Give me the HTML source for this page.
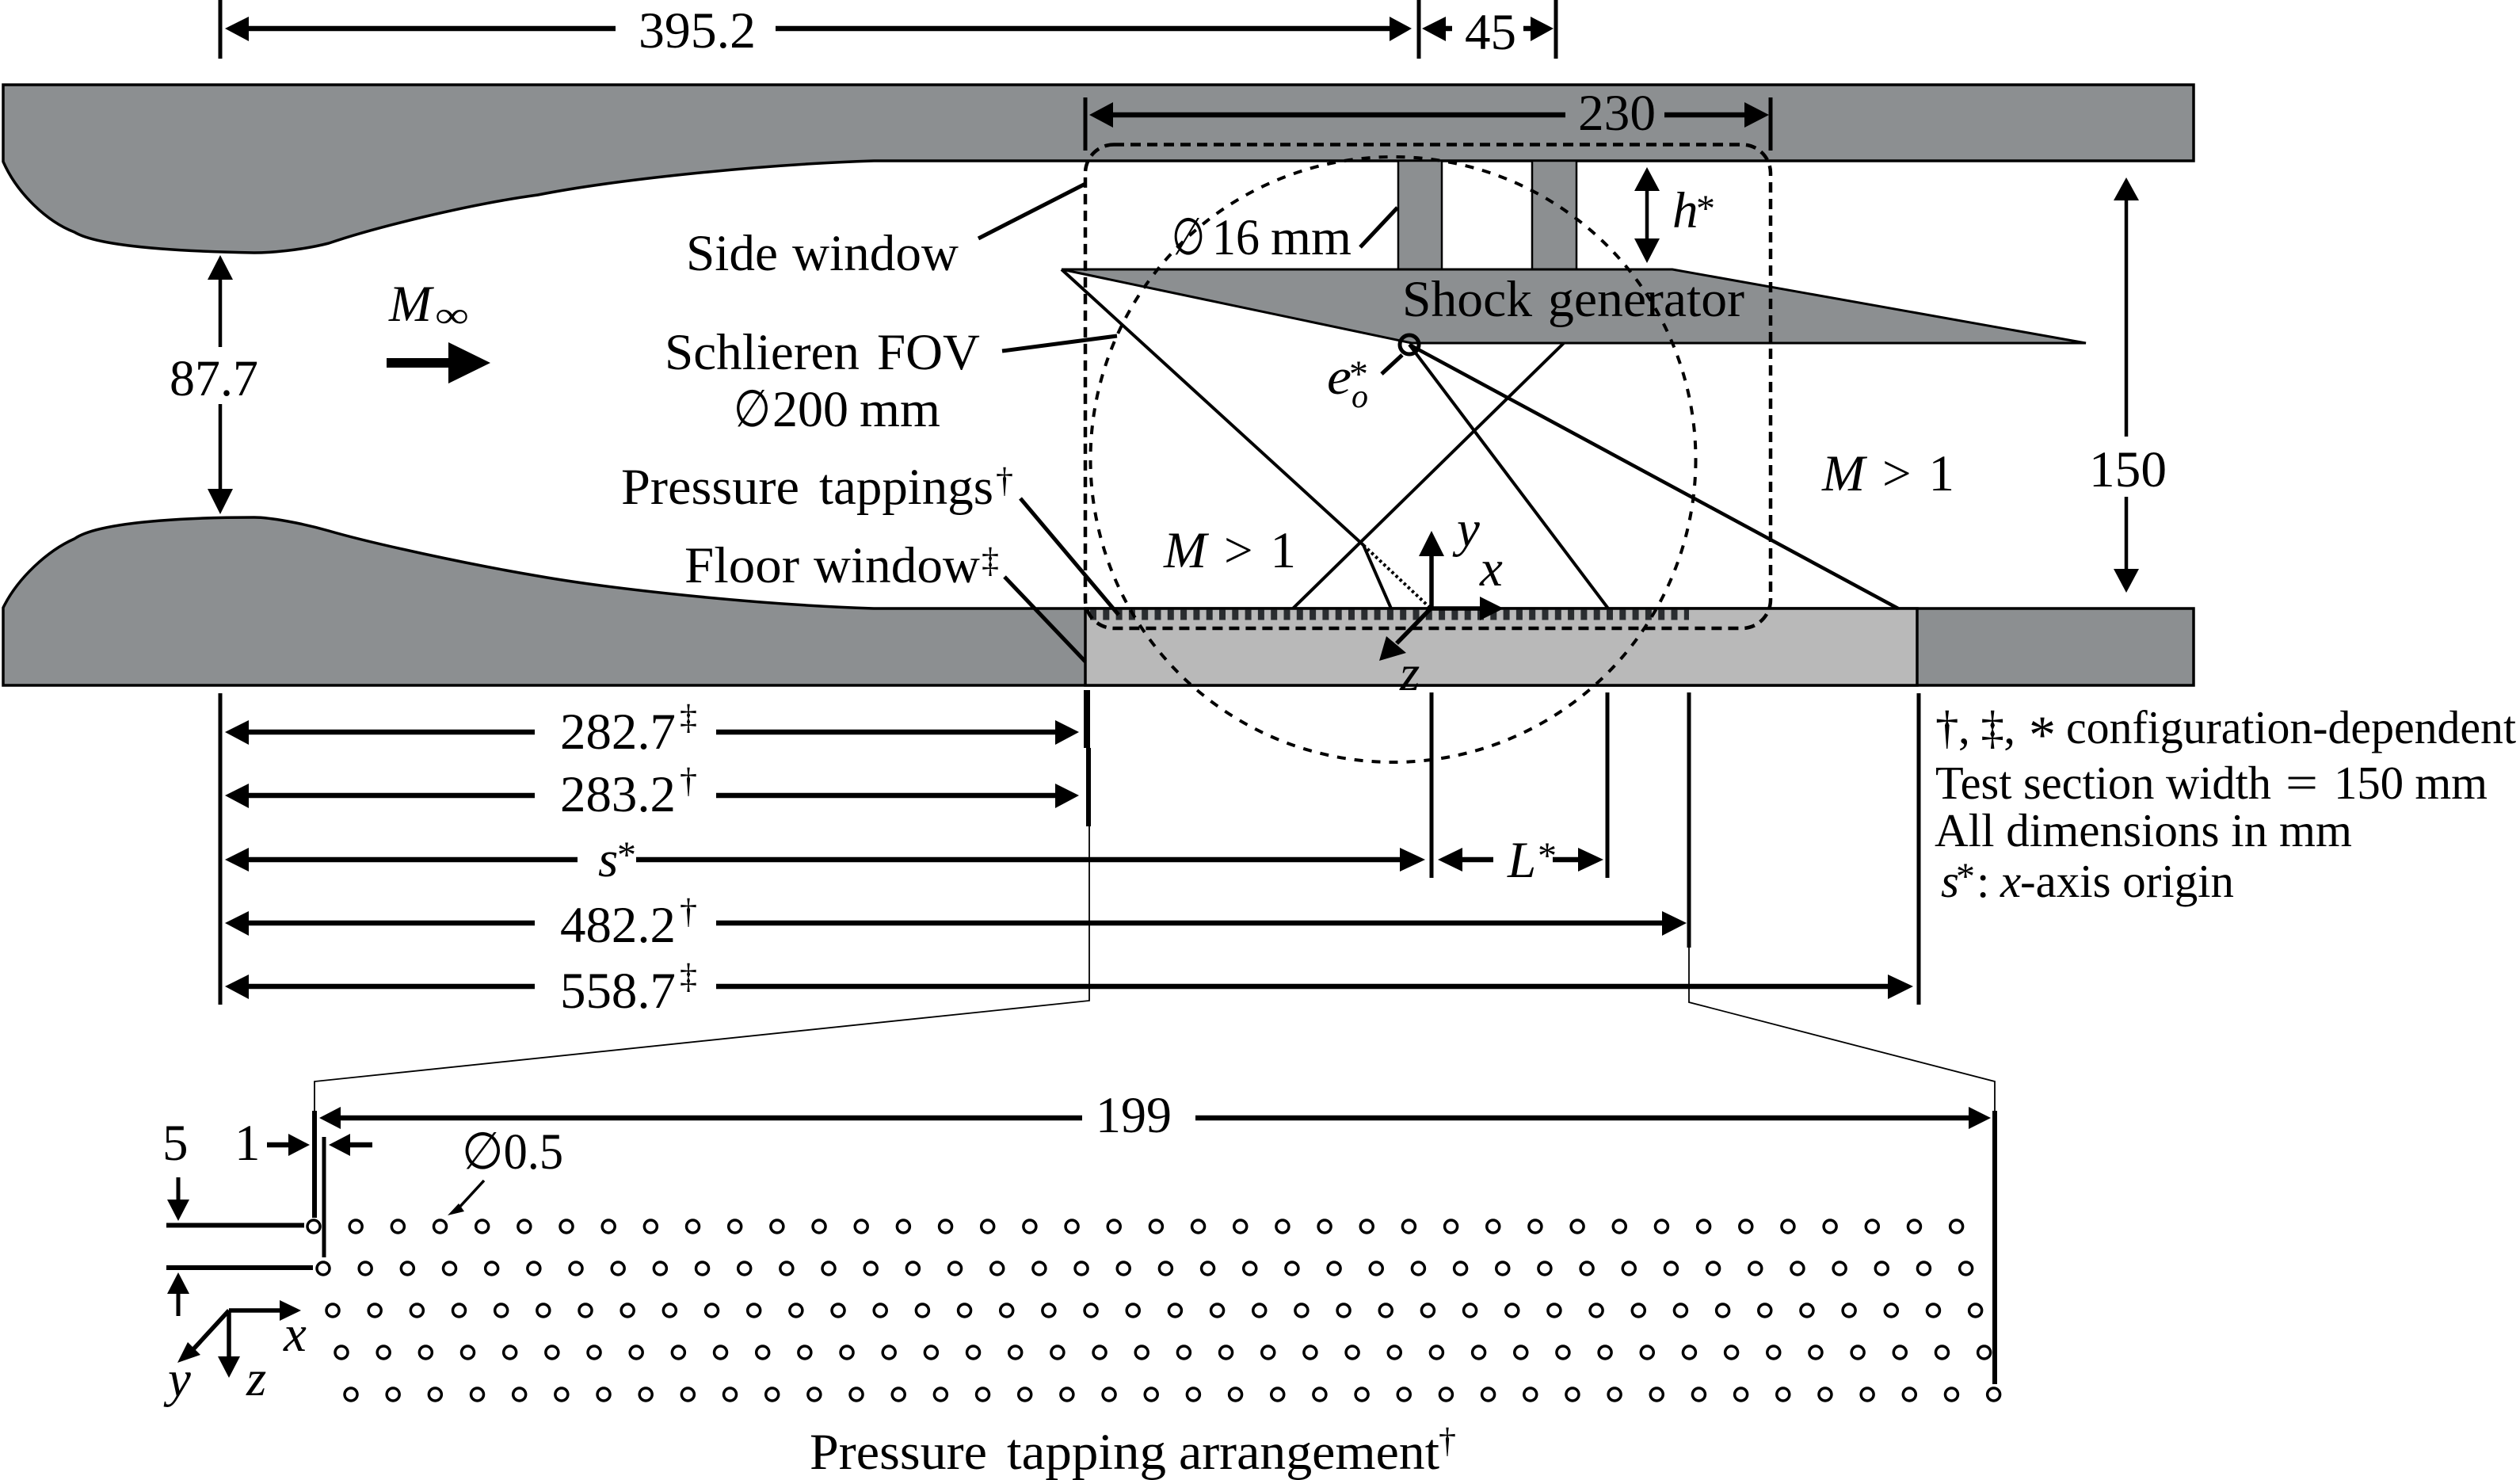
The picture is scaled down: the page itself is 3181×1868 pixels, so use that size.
<!DOCTYPE html>
<html><head><meta charset="utf-8"><style>
html,body{margin:0;padding:0;background:#fff}
svg{display:block}
text{font-family:"Liberation Serif",serif;font-size:65px;fill:#000}
.i{font-style:italic}
.l{font-size:59px}
.s{font-size:44px}
.a{font-size:48px}
.b{stroke:#000;fill:none}
</style></head><body>
<svg width="3181" height="1868" viewBox="0 0 3181 1868" xmlns="http://www.w3.org/2000/svg">
<!-- walls -->
<path d="M4,107H2769V203H1103C950,208 770,228 679,246C590,258 470,288 415,307C380,316 340,319 321,319C270,318 130,315 94,293C60,280 22,245 4,204Z" fill="#8c8f91" stroke="#000" stroke-width="3.5"/>
<path d="M4,865V767C22,730 60,695 94,680C130,655 270,653 321,653C340,653 380,660 415,670C470,686 590,712 679,727C770,743 950,763 1103,768H2769V865Z" fill="#8c8f91" stroke="#000" stroke-width="3.5"/>
<rect x="1370" y="768" width="1050" height="97" fill="#b9b9b9" stroke="#000" stroke-width="3.5"/>
<!-- struts & wedge -->
<rect x="1765" y="203" width="55" height="137" fill="#8c8f91" stroke="#000" stroke-width="2.5"/>
<rect x="1934" y="203" width="56" height="137" fill="#8c8f91" stroke="#000" stroke-width="2.5"/>
<path d="M1340,340H2111L2633,433H1782Z" fill="#8c8f91" stroke="#000" stroke-width="3"/>
<!-- hatch -->
<line x1="1376" y1="776" x2="2132" y2="776" stroke="#2a2d30" stroke-width="13" stroke-dasharray="8 8.3"/>
<!-- window & FOV -->
<rect x="1370" y="182.500" width="865" height="610.500" rx="36" class="b" stroke-width="4.500" stroke-dasharray="13 8"/>
<circle cx="1758.500" cy="580" r="382" class="b" stroke-width="4" stroke-dasharray="11 11"/>
<!-- shock lines -->
<g class="b" stroke-width="4">
<path d="M1340,340L1721,688"/>
<path d="M1721,688L1756,768"/>
<path d="M1974,433L1632,768"/>
<path d="M1779,435L2030,768"/>
<path d="M1779,435L2396,768" stroke-width="4.500"/>
<path d="M1721,688L1804,766" stroke-dasharray="3.500 3.500"/>
</g>
<circle cx="1779" cy="435" r="12" fill="none" stroke="#000" stroke-width="5"/>
<!-- leaders -->
<g class="b" stroke-width="5">
<path d="M1235,301L1370,232"/>
<path d="M1265,443L1410,424"/>
<path d="M1288,629L1412,776"/>
<path d="M1268,728L1370,835"/>
<path d="M1717,312L1764,262"/>
<path d="M1744,472L1770,448"/>
</g>
<!-- ticks -->
<g class="b" stroke-width="5">
<path d="M278,0V74M1791,0V74M1964,0V74M1370,123V190M2235,123V190"/>
<path d="M278,875V1268M1807,874V1108M2029,874V1108M2422,875V1268"/>
<path d="M2132,874V1196"/>
<path d="M397,1402V1537" stroke-width="6"/>
<path d="M409,1435V1587"/>
<path d="M2518,1402V1747" stroke-width="6"/>
<path d="M1372,871V944" stroke-width="8"/>
<path d="M1374,944V1043" stroke-width="6"/>
</g>
<g class="b" stroke-width="1.800">
<path d="M1375,1043V1263L397,1365V1402"/>
<path d="M2132,1196V1265L2518,1365V1402"/>
</g>
<!-- horizontal dimension lines -->
<g class="b" stroke-width="6.500">
<path d="M300,36H777M979,36H1760M1820,36H1833M1923,36H1940"/>
<path d="M1400,145H1976M2101,145H2210"/>
<path d="M300,924H675M904,924H1340"/>
<path d="M300,1004H675M904,1004H1340"/>
<path d="M300,1085H729M803,1085H1775"/>
<path d="M1840,1085H1885M1960,1085H2000"/>
<path d="M300,1165H675M904,1165H2105"/>
<path d="M300,1245H675M904,1245H2390"/>
<path d="M425,1411H1366M1509,1411H2490"/>
<path d="M337,1445H370M436,1445H470"/>
<path d="M210,1546.500H384M210,1600H395" stroke-width="6"/>
</g>
<g class="b" stroke-width="4.500">
<path d="M278,345V438M278,510V625"/>
<path d="M2684,245V551M2684,627V725"/>
<path d="M2079,235V310"/>
</g>
<!-- arrowheads -->
<g fill="#000">
<path d="M284,36L314,21V52Z"/>
<path d="M1782,36L1754,21V52Z"/>
<path d="M1795,36L1825,21V52Z"/>
<path d="M1961,36L1932,21V52Z"/>
<path d="M1375,145L1405,129V161Z"/>
<path d="M2233,145L2202,129V161Z"/>
<path d="M278,322L262,353H294Z"/>
<path d="M278,649L262,617H294Z"/>
<path d="M2684,224L2668,253H2700Z"/>
<path d="M2684,748L2668,718H2700Z"/>
<path d="M2079,211L2063,241H2095Z"/>
<path d="M2079,332L2063,301H2095Z"/>
<path d="M488,452H566V432L619,458L566,484V464H488Z"/>
<path d="M284,924L314,909V940Z"/><path d="M1362,924L1332,909V940Z"/>
<path d="M284,1004L314,989V1020Z"/><path d="M1362,1004L1332,989V1020Z"/>
<path d="M284,1085L314,1070V1100Z"/><path d="M1799,1085L1767,1070V1100Z"/>
<path d="M1815,1085L1846,1070V1100Z"/><path d="M2024,1085L1992,1070V1100Z"/>
<path d="M284,1165L314,1150V1181Z"/><path d="M2129,1165L2098,1150V1181Z"/>
<path d="M284,1245L314,1230V1261Z"/><path d="M2415,1245L2383,1230V1261Z"/>
<path d="M403,1411L430,1397V1425Z"/><path d="M2513,1411L2485,1397V1425Z"/>
<path d="M391,1445L364,1431V1459Z"/><path d="M415,1445L442,1431V1459Z"/>
<path d="M225,1541L211,1514H239Z"/><path d="M225,1606L211,1633H239Z"/>
<path d="M1807,670L1791,702H1823Z"/>
<path d="M1898,768L1868,753V783Z"/>
<path d="M1741,834L1750,803L1775,824Z"/>
<path d="M380,1654L353,1641V1667Z"/>
<path d="M289,1739L275,1712H303Z"/>
<path d="M224,1720L237,1694L253,1710Z"/>
<path d="M565,1534L579,1519L586,1529Z"/>
</g>
<g class="b" stroke-width="5.500">
<path d="M1807,767V700M1807,768H1870M1807,767L1763,812"/>
<path d="M289,1654H355M289,1654V1715M289,1654L244,1703"/>
<path d="M225,1486V1516M225,1661V1631" stroke-width="5"/>
<path d="M611,1490L576,1528" stroke-width="3.500"/>
</g>
<!-- tapping rings -->
<g fill="none" stroke-linecap="round">
<g stroke="#000" stroke-width="19.500" stroke-dasharray="0 53.170">
<path d="M396,1548H2471M408,1601H2483M420,1654H2495M431,1707H2507M443,1760H2519"/>
</g>
<g stroke="#fff" stroke-width="12.500" stroke-dasharray="0 53.170">
<path d="M396,1548H2471M408,1601H2483M420,1654H2495M431,1707H2507M443,1760H2519"/>
</g>
</g>
<!-- labels -->
<text x="806" y="60" textLength="148" lengthAdjust="spacingAndGlyphs">395.2</text>
<text x="1849" y="62" textLength="65" lengthAdjust="spacingAndGlyphs">45</text>
<text x="1992" y="164" textLength="98" lengthAdjust="spacingAndGlyphs">230</text>
<text x="214" y="499" textLength="112" lengthAdjust="spacingAndGlyphs">87.7</text>
<text x="2637" y="614" textLength="98" lengthAdjust="spacingAndGlyphs">150</text>
<text x="866" y="341" textLength="116" lengthAdjust="spacingAndGlyphs">Side</text>
<text x="1000" y="341" textLength="210" lengthAdjust="spacingAndGlyphs">window</text>
<text x="839" y="466" textLength="246" lengthAdjust="spacingAndGlyphs">Schlieren</text>
<text x="1107" y="466" textLength="130" lengthAdjust="spacingAndGlyphs">FOV</text>
<text x="926" y="538" textLength="47" lengthAdjust="spacingAndGlyphs">∅</text>
<text x="975" y="538" textLength="96" lengthAdjust="spacingAndGlyphs">200</text>
<text x="1085" y="538" textLength="102" lengthAdjust="spacingAndGlyphs">mm</text>
<text x="784" y="636" textLength="225" lengthAdjust="spacingAndGlyphs">Pressure</text>
<text x="1034" y="636" textLength="220" lengthAdjust="spacingAndGlyphs">tappings</text>
<text x="1257" y="621" class="s">†</text>
<text x="864" y="735" textLength="145" lengthAdjust="spacingAndGlyphs">Floor</text>
<text x="1027" y="735" textLength="210" lengthAdjust="spacingAndGlyphs">window</text>
<text x="1239" y="722" class="s">‡</text>
<text x="1479" y="321" textLength="42" lengthAdjust="spacingAndGlyphs">∅</text>
<text x="1530" y="321" textLength="60" lengthAdjust="spacingAndGlyphs">16</text>
<text x="1604" y="321" textLength="102" lengthAdjust="spacingAndGlyphs">mm</text>
<text x="1770" y="399" textLength="164" lengthAdjust="spacingAndGlyphs">Shock</text>
<text x="1954" y="399" textLength="248" lengthAdjust="spacingAndGlyphs">generator</text>
<text x="491" y="405" class="i" textLength="54" lengthAdjust="spacingAndGlyphs">M</text>
<text x="549" y="413" style="font-size:46px" textLength="43" lengthAdjust="spacingAndGlyphs">∞</text>
<text x="2111" y="287" class="i">h</text><text x="2141" y="279" class="a">*</text>
<text x="1675" y="497" class="i" textLength="31" lengthAdjust="spacingAndGlyphs">e</text>
<text x="1703" y="488" class="a">*</text>
<text x="1706" y="514" class="i" style="font-size:42px">o</text>
<text x="1469" y="716" textLength="167" lengthAdjust="spacing"><tspan class="i">M</tspan> &gt; 1</text>
<text x="2300" y="619" textLength="167" lengthAdjust="spacing"><tspan class="i">M</tspan> &gt; 1</text>
<text x="1839" y="689" class="i">y</text>
<text x="1868" y="739" class="i">x</text>
<text x="1767" y="871" class="i">z</text>
<text x="707" y="945" textLength="146" lengthAdjust="spacingAndGlyphs">282.7</text><text x="858" y="920" class="s">‡</text>
<text x="707" y="1024" textLength="146" lengthAdjust="spacingAndGlyphs">283.2</text><text x="858" y="1000" class="s">†</text>
<text x="755" y="1106" class="i">s</text><text x="779" y="1095" class="a">*</text>
<text x="707" y="1189" textLength="146" lengthAdjust="spacingAndGlyphs">482.2</text><text x="858" y="1165" class="s">†</text>
<text x="707" y="1272" textLength="146" lengthAdjust="spacingAndGlyphs">558.7</text><text x="858" y="1247" class="s">‡</text>
<text x="1903" y="1107" class="i">L</text><text x="1941" y="1096" class="a">*</text>
<text x="2443" y="938" class="l" textLength="101" lengthAdjust="spacing">†, ‡,</text>
<text x="2561" y="950" style="font-size:68px">*</text>
<text x="2608" y="938" class="l" textLength="568" lengthAdjust="spacingAndGlyphs">configuration-dependent</text>
<text x="2443" y="1008" class="l" textLength="424" lengthAdjust="spacingAndGlyphs">Test section width</text>
<text x="2885" y="1008" class="l" textLength="41" lengthAdjust="spacingAndGlyphs">=</text>
<text x="2946" y="1008" class="l" textLength="194" lengthAdjust="spacing">150 mm</text>
<text x="2442" y="1068" class="l" textLength="527" lengthAdjust="spacingAndGlyphs">All dimensions in mm</text>
<text x="2450" y="1132" class="i l">s</text>
<text x="2469" y="1122" class="a">*</text>
<text x="2495" y="1132" class="l">:</text>
<text x="2525" y="1132" class="i l">x</text>
<text x="2550" y="1132" class="l" textLength="270" lengthAdjust="spacingAndGlyphs">-axis origin</text>
<text x="1383" y="1429" textLength="96" lengthAdjust="spacingAndGlyphs">199</text>
<text x="205" y="1464">5</text>
<text x="296" y="1464">1</text>
<text x="583" y="1475" textLength="128" lengthAdjust="spacingAndGlyphs">∅0.5</text>
<text x="358" y="1705" class="i">x</text>
<text x="212" y="1762" class="i">y</text>
<text x="311" y="1761" class="i">z</text>
<text x="1022" y="1854" textLength="224" lengthAdjust="spacingAndGlyphs">Pressure</text>
<text x="1271" y="1854" textLength="201" lengthAdjust="spacingAndGlyphs">tapping</text>
<text x="1488" y="1854" textLength="329" lengthAdjust="spacingAndGlyphs">arrangement</text>
<text x="1816" y="1833" class="s">†</text>
</svg>
</body></html>
